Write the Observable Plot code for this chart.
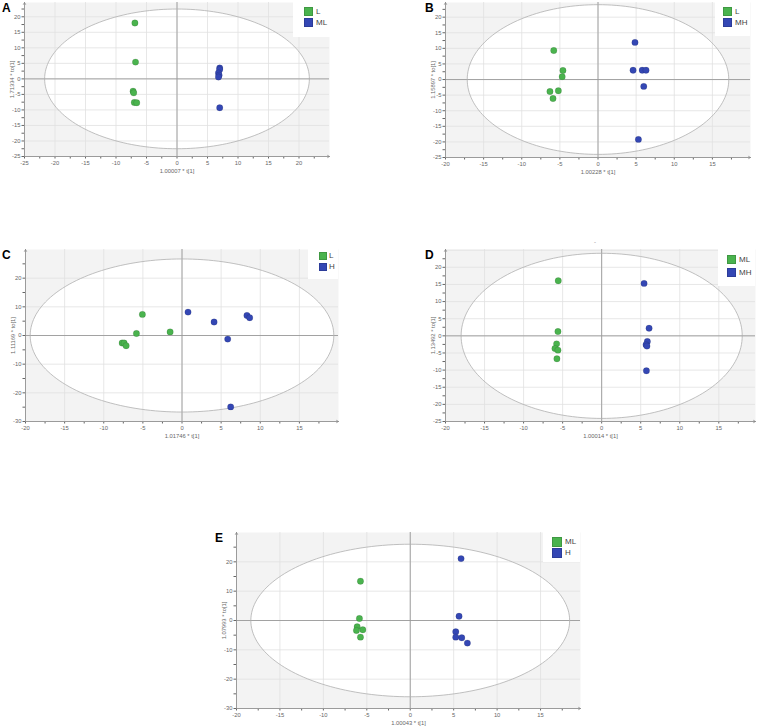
<!DOCTYPE html>
<html><head><meta charset="utf-8">
<script src="https://cdn.jsdelivr.net/npm/d3@7"></script>
<script src="https://cdn.jsdelivr.net/npm/@observablehq/plot@0.6"></script>
<style>
body{margin:0;background:#fff;}
#wrap{position:relative;width:758px;height:728px;overflow:hidden;font-family:"Liberation Sans",Arial,sans-serif;}
.p{position:absolute;}
.letter{position:absolute;font-weight:bold;font-size:12px;line-height:1;color:#000;}
.leg{position:absolute;background:#fff;}
.sq{position:absolute;border:0.5px solid rgba(0,0,0,0.15);box-sizing:border-box;}
.lt{position:absolute;font-size:8px;line-height:1;color:#444;}
</style></head><body><div id="wrap"></div>
<script>
// ---------- Data ----------
// Panel A: L vs ML
const A_groups = ["L", "ML"];
const A_L_t  = [-6.9, -6.8, -7.2, -7.1, -7.0, -6.6];
const A_L_to = [18.0, 5.4, -3.95, -4.5, -7.6, -7.7];
const A_ML_t  = [7.0, 7.0, 6.8, 6.9, 6.8, 7.0];
const A_ML_to = [3.5, 3.0, 1.9, 1.2, 0.6, -9.3];
const A_xTicks = [-25, -20, -15, -10, -5, 0, 5, 10, 15, 20];
const A_yTicks = [-25, -20, -15, -10, -5, 0, 5, 10, 15, 20];
const A_ellipse = [21.7, 22.5];
const A_labels = ["1.00007 * t[1]", "1.71334 * to[1]"];

// Panel B: L vs MH
const B_groups = ["L", "MH"];
const B_L_t  = [-5.8, -4.6, -4.7, -6.3, -5.2, -5.9];
const B_L_to = [9.3, 2.9, 0.9, -3.85, -3.6, -6.1];
const B_MH_t  = [4.85, 4.6, 5.8, 6.3, 6.0, 5.3];
const B_MH_to = [11.9, 3.0, 3.0, 3.0, -2.2, -19.2];
const B_xTicks = [-20, -15, -10, -5, 0, 5, 10, 15];
const B_yTicks = [-25, -20, -15, -10, -5, 0, 5, 10, 15, 20];
const B_ellipse = [17.15, 24.0];
const B_labels = ["1.00228 * t[1]", "1.15897 * to[1]"];

// Panel C: L vs H
const C_groups = ["L", "H"];
const C_L_t  = [-5.06, -5.82, -1.52, -7.65, -7.4, -7.14];
const C_L_to = [7.36, 0.7, 1.26, -2.64, -2.64, -3.56];
const C_H_t  = [0.77, 4.1, 8.3, 8.65, 5.84, 6.22];
const C_H_to = [8.16, 4.7, 7.0, 6.2, -1.26, -24.9];
const C_xTicks = [-20, -15, -10, -5, 0, 5, 10, 15];
const C_yTicks = [-30, -20, -10, 0, 10, 20];
const C_ellipse = [19.4, 26.7];
const C_labels = ["1.01746 * t[1]", "1.11169 * to[1]"];

// Panel D: ML vs MH
const D_groups = ["ML", "MH"];
const D_ML_t  = [-5.56, -5.6, -5.77, -5.98, -5.6, -5.73];
const D_ML_to = [16.1, 1.26, -2.33, -3.7, -4.17, -6.7];
const D_MH_t  = [5.43, 6.07, 5.85, 5.68, 5.8, 5.73];
const D_MH_to = [15.3, 2.23, -1.65, -2.6, -3.0, -10.2];
const D_xTicks = [-20, -15, -10, -5, 0, 5, 10, 15];
const D_yTicks = [-25, -20, -15, -10, -5, 0, 5, 10, 15, 20];
const D_ellipse = [18.0, 24.1];
const D_labels = ["1.00014 * t[1]", "1.13492 * to[1]"];

// Panel E: ML vs H
const E_groups = ["ML", "H"];
const E_ML_t  = [-5.73, -5.85, -6.11, -6.19, -5.46, -5.73];
const E_ML_to = [13.4, 0.68, -2.15, -3.4, -3.17, -5.67];
const E_H_t  = [5.85, 5.62, 5.24, 5.24, 5.93, 6.58];
const E_H_to = [21.1, 1.47, -3.85, -5.67, -5.9, -7.7];
const E_xTicks = [-20, -15, -10, -5, 0, 5, 10, 15];
const E_yTicks = [-30, -20, -10, 0, 10, 20];
const E_ellipse = [18.35, 26.0];
const E_labels = ["1.00043 * t[1]", "1.07993 * to[1]"];

// ---------- Styling / layout ----------
const GREEN = "#4ab34e", BLUE = "#3447b4";
const rows = (t, to, g) => t.map((v, i) => ({t: v, to: to[i], group: g}));

const panels = [
  {id: "A", left: 0, top: 0, w: 340, h: 185, mL: 24, mR: 11, mT: 2, mB: 29,
   xDomain: [-25, 25], yDomain: [-25, 24.6], xTicks: A_xTicks, yTicks: A_yTicks, xStep: 5, yStep: 5,
   ell: A_ellipse, labels: A_labels, groups: A_groups,
   data: [...rows(A_L_t, A_L_to, "L"), ...rows(A_ML_t, A_ML_to, "ML")],
   letter: [2, 2], leg: {x: 293, y: 2, w: 37, h: 35, sx: 11, sy: [5, 16], s: 9, tx: 23}},
  {id: "B", left: 380, top: 0, w: 378, h: 185, mL: 65, mR: 8, mT: 2, mB: 28,
   xDomain: [-20, 20], yDomain: [-25, 24.7], xTicks: B_xTicks, yTicks: B_yTicks, xStep: 5, yStep: 5,
   ell: B_ellipse, labels: B_labels, groups: B_groups,
   data: [...rows(B_L_t, B_L_to, "L"), ...rows(B_MH_t, B_MH_to, "MH")],
   letter: [425, 2], leg: {x: 715, y: 2, w: 35, h: 34, sx: 8, sy: [5, 16], s: 9, tx: 20}},
  {id: "C", left: 0, top: 195, w: 340, h: 250, mL: 25, mR: 2, mT: 54, mB: 24,
   xDomain: [-20, 20], yDomain: [-30, 30], xTicks: C_xTicks, yTicks: C_yTicks, xStep: 5, yStep: 10,
   ell: C_ellipse, labels: C_labels, groups: C_groups,
   data: [...rows(C_L_t, C_L_to, "L"), ...rows(C_H_t, C_H_to, "H")],
   letter: [2, 249], leg: {x: 308, y: 249, w: 30, h: 30, sx: 11, sy: [3, 14], s: 8, tx: 21}},
  {id: "D", left: 380, top: 195, w: 378, h: 250, mL: 65, mR: 3, mT: 54, mB: 24,
   xDomain: [-20, 19.7], yDomain: [-25, 25.2], xTicks: D_xTicks, yTicks: D_yTicks, xStep: 5, yStep: 5,
   ell: D_ellipse, labels: D_labels, groups: D_groups,
   data: [...rows(D_ML_t, D_ML_to, "ML"), ...rows(D_MH_t, D_MH_to, "MH")],
   letter: [425, 249], leg: {x: 718, y: 249, w: 37, h: 37, sx: 9, sy: [6, 19], s: 9, tx: 21}},
  {id: "E", left: 210, top: 435, w: 375, h: 293, mL: 26, mR: 5, mT: 97, mB: 20,
   xDomain: [-20, 19.6], yDomain: [-30, 30], xTicks: E_xTicks, yTicks: E_yTicks, xStep: 5, yStep: 10,
   ell: E_ellipse, labels: E_labels, groups: E_groups,
   data: [...rows(E_ML_t, E_ML_to, "ML"), ...rows(E_H_t, E_H_to, "H")],
   letter: [215, 532], leg: {x: 543, y: 532, w: 37, h: 30, sx: 9, sy: [5, 16], s: 10, tx: 22}}
];

const wrap = document.getElementById("wrap");

function withMinor(major, step, domain) {
  const out = [];
  for (const v of major) { out.push(v); const m = v + step / 2; if (m < domain[1]) out.push(m); }
  return out;
}

for (const p of panels) {
  const [rx, ry] = p.ell;
  const ellPts = d3.range(0, 361, 2).map(a => ({x: rx * Math.cos(a * Math.PI / 180), y: ry * Math.sin(a * Math.PI / 180)}));
  const xGrid = d3.range(p.xDomain[0], p.xDomain[1], p.xStep);
  const yGrid = d3.range(p.yDomain[0], p.yDomain[1], p.yStep);
  const xT = withMinor(p.xTicks, p.xStep, p.xDomain);
  const yT = withMinor(p.yTicks, p.yStep, p.yDomain);
  const chart = Plot.plot({
    width: p.w, height: p.h,
    marginLeft: p.mL, marginRight: p.mR, marginTop: p.mT, marginBottom: p.mB,
    style: {fontSize: "5.8px", fontFamily: "'Liberation Sans', Arial, sans-serif", color: "#666", background: "transparent", overflow: "visible"},
    x: {domain: p.xDomain, ticks: xT, tickFormat: d => p.xTicks.includes(d) ? String(d) : "", tickSize: 2.5, tickPadding: 2,
        label: p.labels[0], labelAnchor: "center", labelOffset: 16, labelArrow: "none"},
    y: {domain: p.yDomain, ticks: yT, tickFormat: d => p.yTicks.includes(d) ? String(d) : "", tickSize: 2.5, tickPadding: 1.5,
        label: p.labels[1], labelAnchor: "center", labelOffset: 15, labelArrow: "none"},
    color: {domain: p.groups, range: [GREEN, BLUE]},
    marks: [
      Plot.frame({fill: "#f3f3f3", stroke: "none"}),
      Plot.line(ellPts, {x: "x", y: "y", fill: "white", stroke: "none"}),
      Plot.ruleX(xGrid, {stroke: "#e1e1e1", strokeWidth: 0.8}),
      Plot.ruleY(yGrid, {stroke: "#e1e1e1", strokeWidth: 0.8}),
      Plot.ruleX([0], {stroke: "#9a9a9a", strokeWidth: 0.9}),
      Plot.ruleY([0], {stroke: "#9a9a9a", strokeWidth: 0.9}),
      Plot.line(ellPts, {x: "x", y: "y", fill: "none", stroke: "#b0b0b0", strokeWidth: 0.8}),
      Plot.arrow([0], {x1: p.xDomain[0], x2: p.xDomain[0], y1: p.yDomain[0], y2: p.yDomain[1], stroke: "#888", strokeWidth: 0.8, headLength: 4}),
      Plot.arrow([0], {x1: p.xDomain[0], x2: p.xDomain[1], y1: p.yDomain[0], y2: p.yDomain[0], stroke: "#888", strokeWidth: 0.8, headLength: 4}),
      Plot.dot(p.data, {x: "t", y: "to", fill: "group", r: 3.2, stroke: "#000", strokeOpacity: 0.18, strokeWidth: 0.6})
    ]
  });
  chart.classList.add("p");
  chart.style.left = p.left + "px";
  chart.style.top = p.top + "px";
  wrap.appendChild(chart);

  // legend
  const L = p.leg;
  const leg = document.createElement("div");
  leg.className = "leg";
  Object.assign(leg.style, {left: L.x + "px", top: L.y + "px", width: L.w + "px", height: L.h + "px"});
  p.groups.forEach((g, i) => {
    const sq = document.createElement("div");
    sq.className = "sq";
    Object.assign(sq.style, {left: L.sx + "px", top: L.sy[i] + "px", width: L.s + "px", height: L.s + "px", background: i === 0 ? GREEN : BLUE});
    leg.appendChild(sq);
    const t = document.createElement("div");
    t.className = "lt";
    t.textContent = g;
    Object.assign(t.style, {left: L.tx + "px", top: (L.sy[i] + L.s / 2 - 4) + "px"});
    leg.appendChild(t);
  });
  wrap.appendChild(leg);

  const letter = document.createElement("div");
  letter.className = "letter";
  letter.textContent = p.id;
  letter.style.left = p.letter[0] + "px";
  letter.style.top = p.letter[1] + "px";
  wrap.appendChild(letter);
}
// small stray mark above panel D
const dash = document.createElement("div");
dash.className = "lt";
dash.textContent = "-";
Object.assign(dash.style, {left: "594px", top: "239px", fontSize: "6px", color: "#888"});
wrap.appendChild(dash);
</script></body></html>
